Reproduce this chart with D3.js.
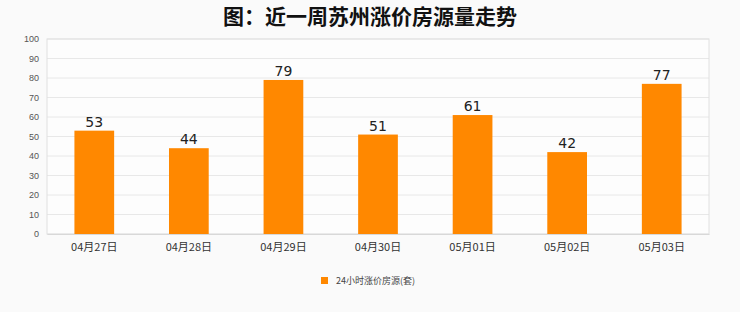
<!DOCTYPE html>
<html>
<head>
<meta charset="utf-8">
<script src="https://cdn.jsdelivr.net/npm/d3@7"></script>
<style>
  body { margin: 0; background: #fafafa; }
  svg { display: block; font-family: "Noto Sans CJK SC", "DejaVu Sans", sans-serif; }
</style>
</head>
<body>
<div id="chart"></div>
<script>
// chart data
const dates = ['04月27日', '04月28日', '04月29日', '04月30日', '05月01日', '05月02日', '05月03日'];
const counts = [53, 44, 79, 51, 61, 42, 77];
const yTicks = [0, 10, 20, 30, 40, 50, 60, 70, 80, 90, 100];
const seriesName = '24小时涨价房源(套)';
const titleText = '图：近一周苏州涨价房源量走势';

const W = 740, H = 312;
const margin = { top: 39, right: 31, bottom: 78, left: 47 };
const width = W - margin.left - margin.right;
const height = H - margin.top - margin.bottom;

const svg = d3.select('#chart').append('svg')
  .attr('width', W)
  .attr('height', H);

svg.append('rect').attr('width', W).attr('height', H).attr('fill', '#fafafa');

svg.append('text')
  .attr('x', W / 2)
  .attr('y', 24)
  .attr('text-anchor', 'middle')
  .attr('font-size', 21)
  .attr('font-weight', 'bold')
  .attr('fill', '#111')
  .text(titleText);

const chart = svg.append('g')
  .attr('transform', `translate(${margin.left},${margin.top})`);

const x = d3.scaleBand()
  .domain(dates)
  .range([0, width])
  .paddingInner(0.58)
  .paddingOuter(0.29);

const y = d3.scaleLinear()
  .domain([0, 100])
  .range([height, 0]);

// plot background + grid
chart.append('rect')
  .attr('width', width).attr('height', height)
  .attr('fill', '#fdfdfd');

chart.append('g')
  .selectAll('line')
  .data(yTicks)
  .enter().append('line')
    .attr('x1', 0).attr('x2', width)
    .attr('y1', d => y(d)).attr('y2', d => y(d))
    .attr('stroke', '#e8e8e8');

chart.append('rect')
  .attr('width', width).attr('height', height)
  .attr('fill', 'none')
  .attr('stroke', '#e0e0e0');

// y axis
const yAxis = chart.append('g')
  .call(d3.axisLeft(y).tickValues(yTicks).tickSize(0).tickPadding(8));
yAxis.select('.domain').remove();
yAxis.selectAll('text')
  .attr('font-size', 9)
  .attr('fill', '#555')
  .attr('font-family', 'Liberation Sans, Arial, sans-serif');

// x axis
const xAxis = chart.append('g')
  .attr('transform', `translate(0,${height})`)
  .call(d3.axisBottom(x).tickSize(0).tickPadding(9));
xAxis.select('.domain').attr('stroke', '#d8d8d8');
xAxis.selectAll('text')
  .attr('font-size', 11)
  .attr('fill', '#333')
  .attr('font-family', '"Noto Sans CJK SC", "DejaVu Serif", serif');

// bars
chart.append('g')
  .selectAll('rect')
  .data(counts)
  .enter().append('rect')
    .attr('x', (d, i) => x(dates[i]))
    .attr('y', d => y(d))
    .attr('width', x.bandwidth())
    .attr('height', d => height - y(d))
    .attr('fill', '#ff8800');

// value labels
chart.append('g')
  .selectAll('text')
  .data(counts)
  .enter().append('text')
    .attr('x', (d, i) => x(dates[i]) + x.bandwidth() / 2)
    .attr('y', d => y(d) - 4)
    .attr('text-anchor', 'middle')
    .attr('font-size', 14)
    .attr('fill', '#222')
    .attr('font-family', 'DejaVu Sans, sans-serif')
    .text(d => d);

// legend
const legend = svg.append('g').attr('transform', 'translate(321,277)');
legend.append('rect')
  .attr('width', 7).attr('height', 7)
  .attr('fill', '#ff8800');
legend.append('text')
  .attr('x', 15).attr('y', 7)
  .attr('font-size', 9)
  .attr('fill', '#444')
  .text(seriesName);
</script>
</body>
</html>
